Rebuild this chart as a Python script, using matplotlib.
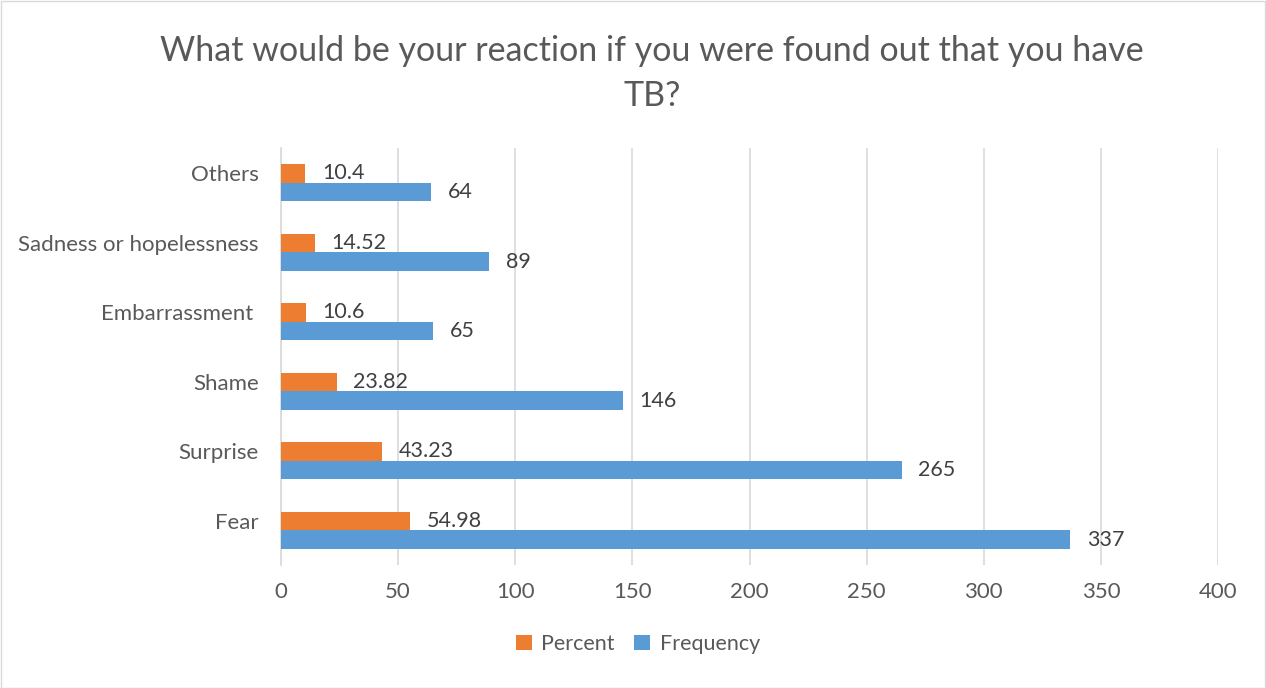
import matplotlib
matplotlib.use("Agg")
import matplotlib.pyplot as plt
from matplotlib.patches import Rectangle
import numpy as np

categories = ["Fear", "Surprise", "Shame", "Embarrassment ", "Sadness or hopelessness", "Others"]
percent = [54.98, 43.23, 23.82, 10.6, 14.52, 10.4]
frequency = [337, 265, 146, 65, 89, 64]
percent_labels = ["54.98", "43.23", "23.82", "10.6", "14.52", "10.4"]
frequency_labels = ["337", "265", "146", "65", "89", "64"]
xticks = [0, 50, 100, 150, 200, 250, 300, 350, 400]

plt.rcParams['font.family'] = ['Lato', 'DejaVu Sans']
TXT = '#595959'
ORANGE = '#ED7D31'
BLUE = '#5B9BD5'

fig = plt.figure(figsize=(12.66, 6.88), dpi=100)
W, H = 1266, 688
left, right, top, bottom = 281, 1218, 148, 565
ax = fig.add_axes([left / W, 1 - bottom / H, (right - left) / W, (bottom - top) / H])

y = np.arange(len(categories))
h = 0.268
ax.barh(y + h / 2, percent, height=h, color=ORANGE, label='Percent', zorder=3)
ax.barh(y - h / 2, frequency, height=h, color=BLUE, label='Frequency', zorder=3)

for i in range(len(categories)):
    ax.annotate(percent_labels[i], (percent[i], y[i] + h / 2), xytext=(12, 0),
                textcoords='offset points', va='center', ha='left', fontsize=15.5, color='#404040')
    ax.annotate(frequency_labels[i], (frequency[i], y[i] - h / 2), xytext=(12, 0),
                textcoords='offset points', va='center', ha='left', fontsize=15.5, color='#404040')

ax.set_xlim(0, 400)
ax.set_ylim(-0.5, len(categories) - 0.5)
ax.set_xticks(xticks)
ax.set_xticklabels([str(t) for t in xticks])
ax.set_yticks(y + h / 2)
ax.set_yticklabels(categories)
ax.tick_params(axis='both', length=0, labelsize=16, labelcolor=TXT)
ax.tick_params(axis='x', pad=12)
ax.tick_params(axis='y', pad=16)
ax.grid(axis='x', color='#D9D9D9', linewidth=1.2, zorder=0)
for s in ['top', 'right', 'bottom']:
    ax.spines[s].set_visible(False)
ax.spines['left'].set_color('#D9D9D9')
ax.spines['left'].set_linewidth(1.2)

fig.text(652 / W, 1 - 51 / H, "What would be your reaction if you were found out that you have",
         ha='center', va='center', fontsize=24.5, color=TXT)
fig.text(652 / W, 1 - 96 / H, "TB?", ha='center', va='center', fontsize=24.5, color=TXT)

handles, labels = ax.get_legend_handles_labels()
leg = fig.legend(handles, labels, loc='center', bbox_to_anchor=(638 / W, 1 - 644 / H), ncol=2,
                 frameon=False, fontsize=15.5, handlelength=0.75, handleheight=0.75,
                 columnspacing=0.9, handletextpad=0.45)
for t in leg.get_texts():
    t.set_color(TXT)

fig.patches.append(Rectangle((0.5 / W, 0.5 / H), 1 - 1.5 / W, 1 - 1.5 / H, transform=fig.transFigure,
                             fill=False, edgecolor='#D9D9D9', linewidth=1))

fig.savefig('out.png', dpi=100, facecolor='white')
